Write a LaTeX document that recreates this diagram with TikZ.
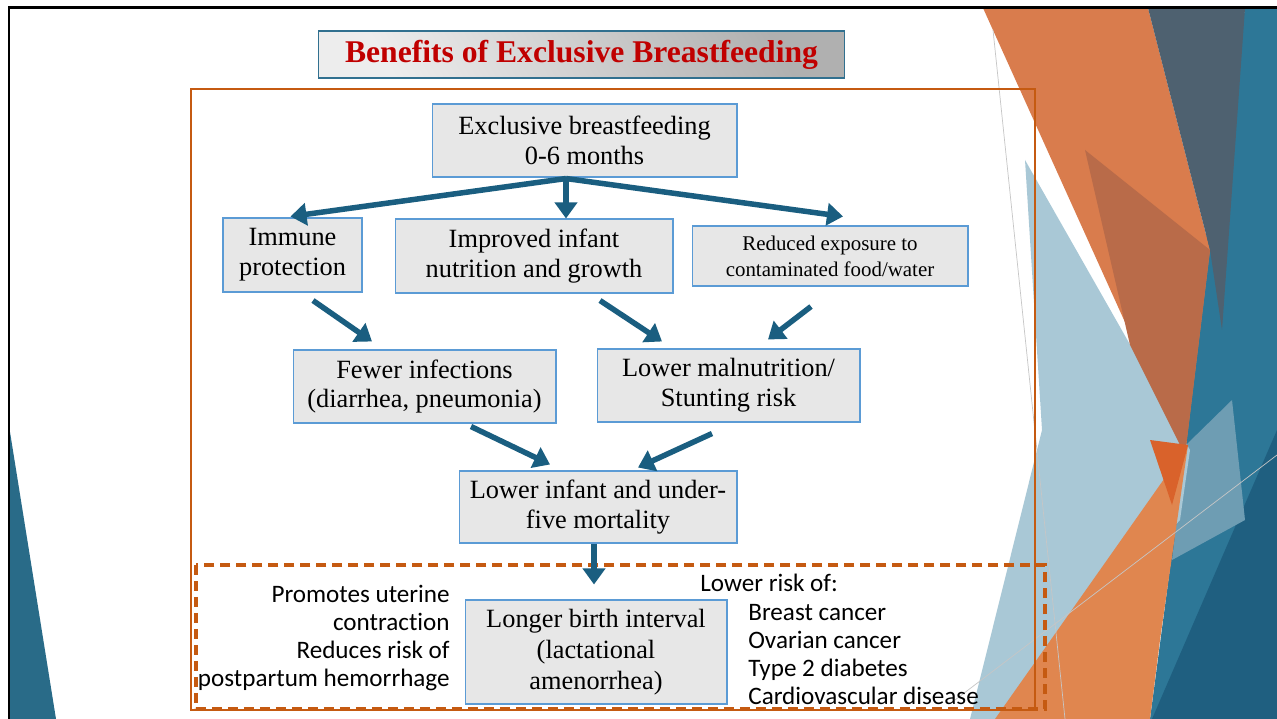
\documentclass[tikz,border=0pt]{standalone}
\usepackage{fontspec}
\setmainfont{Liberation Serif}
\newfontfamily\sidefont[Ligatures={NoCommon,NoRare,NoDiscretionary}]{Carlito}
\usetikzlibrary{arrows.meta}
\definecolor{flowblue}{HTML}{1A5E80}
\definecolor{boxfill}{HTML}{E7E7E7}
\definecolor{boxline}{HTML}{5B9BD5}
\definecolor{titleline}{HTML}{31708F}
\definecolor{titlered}{HTML}{C00000}
\definecolor{frameor}{HTML}{C55A11}
\definecolor{decoOr}{HTML}{D97C4D}
\definecolor{decoBr}{HTML}{B96B49}
\definecolor{decoSl}{HTML}{4E6170}
\definecolor{decoBl}{HTML}{2D7797}
\definecolor{decoDb}{HTML}{1F5F80}
\definecolor{decoLb}{HTML}{A9C8D6}
\definecolor{decoMb}{HTML}{6E9DB3}
\definecolor{decoRd}{HTML}{D9622B}
\definecolor{decoLo}{HTML}{E0864F}

\begin{document}
\begin{tikzpicture}[x=0.02cm, y=-0.02cm,
  box/.style={draw=boxline, fill=boxfill, line width=0.6pt, align=center, inner sep=0pt,
    font=\fontsize{15}{17}\selectfont},
  flow/.style={draw=flowblue, line width=0.11cm, -{Triangle[width=0.44cm,length=0.32cm]}},
  side/.style={font=\sidefont\fontsize{14.3}{16}\selectfont, inner sep=0pt}]

\useasboundingbox (0,0) rectangle (1277,719);
\fill[white] (0,0) rectangle (1277,719);

% background shapes
\fill[decoBl] (1245,8) -- (1277,8) -- (1277,719) -- (1150,719) -- (1185,455) -- (1205,245) -- cycle;
\fill[decoDb] (1277,430) -- (1277,719) -- (1152,719) -- cycle;
\fill[decoMb] (1186,445) -- (1232,400) -- (1245,520) -- (1172,560) -- cycle;
\fill[decoLb] (1025,160) -- (1190,450) -- (1180,520) -- (1000,719) -- (970,719) -- (1042,430) -- cycle;
\fill[decoOr] (983,8) -- (1148,8) -- (1210,250) -- (1185,455) -- cycle;
\fill[decoBr] (1085,150) -- (1210,250) -- (1185,455) -- (1130,345) -- cycle;
\fill[decoSl] (1148,8) -- (1245,8) -- (1222,330) -- (1210,250) -- cycle;
\fill[decoLo] (995,719) -- (1188,445) -- (1160,640) -- (1150,719) -- cycle;
\fill[decoRd] (1150,440) -- (1188,445) -- (1172,505) -- cycle;
\fill[decoBl!90!black] (10,432) -- (10,719) -- (56,719) -- cycle;
\draw[gray!45, line width=0.4pt] (993,30) -- (1065,719);
\draw[gray!45, line width=0.4pt] (955,700) -- (1277,455);

\draw[frameor, line width=0.03cm] (191,89) rectangle (1035,710);
\draw[frameor, line width=0.07cm, dash pattern=on 0.2cm off 0.12cm] (196,565) rectangle (1045,709);

\node[draw=titleline, line width=0.6pt, top color=gray!62, bottom color=gray!14, shading angle=-60,
  minimum width=10.54cm, minimum height=0.94cm, inner sep=0pt, text=titlered,
  font=\bfseries\fontsize{18}{20}\selectfont] (title) at (581.5,54.5) {Benefits of Exclusive Breastfeeding};

\node[box, minimum width=6.1cm, minimum height=1.46cm] (ebf) at (584.5,140.5) {Exclusive breastfeeding\\0-6 months};
\node[box, minimum width=2.78cm, minimum height=1.48cm] (imm) at (292.5,255) {Immune\\protection};
\node[box, minimum width=5.56cm, minimum height=1.48cm] (nut) at (534,256) {Improved infant\\nutrition and growth};
\node[box, minimum width=5.52cm, minimum height=1.2cm, font=\fontsize{11.9}{14.7}\selectfont] (exp) at (830,256) {Reduced exposure to\\contaminated food/water};
\node[box, minimum width=5.26cm, minimum height=1.46cm] (inf) at (424.5,386.5) {Fewer infections\\(diarrhea, pneumonia)};
\node[box, minimum width=5.26cm, minimum height=1.46cm] (mal) at (728.5,385.5) {Lower malnutrition/\\Stunting risk};
\node[box, minimum width=5.56cm, minimum height=1.44cm] (mort) at (598,507) {Lower infant and under-\\five mortality};
\node[box, minimum width=5.24cm, minimum height=2.08cm, font=\fontsize{15}{17.6}\selectfont] (birth) at (596,652) {Longer birth interval\\(lactational\\amenorrhea)};

\node[side, anchor=east, align=right] (uter) at (450,638) {Promotes uterine\\contraction\\Reduces risk of\\postpartum hemorrhage};
\node[side, anchor=west] (risk) at (700,583) {Lower risk of:};
\node[side, anchor=west, align=left] (list) at (748,654.5) {Breast cancer\\Ovarian cancer\\Type 2 diabetes\\Cardiovascular disease};

\coordinate (fork) at ([shift={(-18.5,1)}]ebf.south);
\draw[flow] (fork) -- ([shift={(-2,-1)}]imm.north);
\draw[flow] (fork) -- (fork |- nut.north);
\draw[flow] (fork) -- ([shift={(13,-9)}]exp.north);
\draw[flow] ([shift={(20.5,8)}]imm.south) -- ([shift={(-52.5,-8)}]inf.north);
\draw[flow] ([shift={(66,7)}]nut.south) -- ([shift={(-66.5,-7)}]mal.north);
\draw[flow] ([shift={(-19,20)}]exp.south) -- ([shift={(39.5,-9)}]mal.north);
\draw[flow] ([shift={(46.5,3)}]inf.south) -- ([shift={(-48,-6)}]mort.north);
\draw[flow] ([shift={(-16.5,11)}]mal.south) -- ([shift={(40,-3)}]mort.north);
\draw[flow] ([shift={(-4,0)}]mort.south) -- ([shift={(-2,-15)}]birth.north);

\draw[black, line width=0.06cm] (9,719) -- (9,8) -- (1277,8);

\end{tikzpicture}
\end{document}
